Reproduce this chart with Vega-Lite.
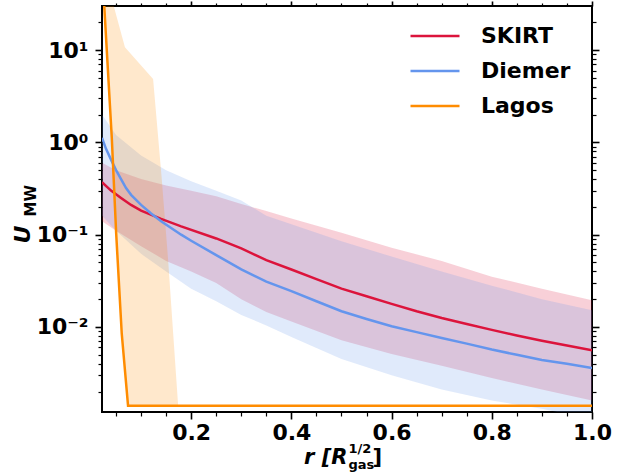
{
  "$schema": "https://vega.github.io/schema/vega-lite/v6.json",
  "width": 490,
  "height": 406,
  "autosize": {"type": "none"},
  "padding": {"left": 102, "top": 6, "right": 43, "bottom": 62},
  "background": "white",
  "config": {
    "view": {"stroke": "black", "strokeWidth": 2},
    "axis": {"domain": false, "grid": false, "ticks": true, "tickColor": "black", "labelColor": "black", "titleColor": "black", "labelFont": "DejaVu Sans", "labelFontWeight": "bold", "titleFont": "DejaVu Sans", "titleFontWeight": "bold", "labelOverlap": false},
    "legend": {"orient": "none", "legendX": 307, "legendY": 19, "symbolType": "stroke", "symbolSize": 2401, "symbolStrokeWidth": 2.5, "labelFont": "DejaVu Sans", "labelFontWeight": "bold", "labelFontSize": 22, "labelColor": "black", "labelOffset": 20, "rowPadding": 13, "clipHeight": 22, "padding": 0}
  },
  "datasets": {
    "skirtLine": [
      {"s": "SKIRT", "r": 0.022, "u": 0.37}, {"s": "SKIRT", "r": 0.04, "u": 0.3}, {"s": "SKIRT", "r": 0.06, "u": 0.25}, {"s": "SKIRT", "r": 0.08, "u": 0.21}, {"s": "SKIRT", "r": 0.1, "u": 0.182}, {"s": "SKIRT", "r": 0.14, "u": 0.148}, {"s": "SKIRT", "r": 0.18, "u": 0.123}, {"s": "SKIRT", "r": 0.25, "u": 0.091}, {"s": "SKIRT", "r": 0.3, "u": 0.071}, {"s": "SKIRT", "r": 0.35, "u": 0.053}, {"s": "SKIRT", "r": 0.4, "u": 0.042}, {"s": "SKIRT", "r": 0.45, "u": 0.033}, {"s": "SKIRT", "r": 0.5, "u": 0.026}, {"s": "SKIRT", "r": 0.55, "u": 0.0215}, {"s": "SKIRT", "r": 0.6, "u": 0.0178}, {"s": "SKIRT", "r": 0.65, "u": 0.0148}, {"s": "SKIRT", "r": 0.7, "u": 0.0125}, {"s": "SKIRT", "r": 0.75, "u": 0.0108}, {"s": "SKIRT", "r": 0.8, "u": 0.0093}, {"s": "SKIRT", "r": 0.85, "u": 0.0081}, {"s": "SKIRT", "r": 0.9, "u": 0.0071}, {"s": "SKIRT", "r": 0.95, "u": 0.0063}, {"s": "SKIRT", "r": 1.0, "u": 0.0056}
    ],
    "diemerLine": [
      {"s": "Diemer", "r": 0.022, "u": 1.12}, {"s": "Diemer", "r": 0.03, "u": 0.85}, {"s": "Diemer", "r": 0.04, "u": 0.65}, {"s": "Diemer", "r": 0.05, "u": 0.5}, {"s": "Diemer", "r": 0.06, "u": 0.4}, {"s": "Diemer", "r": 0.07, "u": 0.32}, {"s": "Diemer", "r": 0.08, "u": 0.27}, {"s": "Diemer", "r": 0.1, "u": 0.21}, {"s": "Diemer", "r": 0.12, "u": 0.17}, {"s": "Diemer", "r": 0.14, "u": 0.14}, {"s": "Diemer", "r": 0.16, "u": 0.118}, {"s": "Diemer", "r": 0.18, "u": 0.1}, {"s": "Diemer", "r": 0.2, "u": 0.086}, {"s": "Diemer", "r": 0.25, "u": 0.06}, {"s": "Diemer", "r": 0.3, "u": 0.042}, {"s": "Diemer", "r": 0.35, "u": 0.031}, {"s": "Diemer", "r": 0.4, "u": 0.0245}, {"s": "Diemer", "r": 0.45, "u": 0.019}, {"s": "Diemer", "r": 0.5, "u": 0.0148}, {"s": "Diemer", "r": 0.55, "u": 0.0122}, {"s": "Diemer", "r": 0.6, "u": 0.0102}, {"s": "Diemer", "r": 0.65, "u": 0.0088}, {"s": "Diemer", "r": 0.7, "u": 0.0076}, {"s": "Diemer", "r": 0.75, "u": 0.0066}, {"s": "Diemer", "r": 0.8, "u": 0.0057}, {"s": "Diemer", "r": 0.85, "u": 0.005}, {"s": "Diemer", "r": 0.9, "u": 0.0044}, {"s": "Diemer", "r": 0.95, "u": 0.004}, {"s": "Diemer", "r": 1.0, "u": 0.0036}
    ],
    "lagosLine": [
      {"s": "Lagos", "r": 0.022, "u": 80}, {"s": "Lagos", "r": 0.0415, "u": 1.13}, {"s": "Lagos", "r": 0.0503, "u": 0.103}, {"s": "Lagos", "r": 0.0614, "u": 0.0085}, {"s": "Lagos", "r": 0.074, "u": 0.0014}, {"s": "Lagos", "r": 1.0, "u": 0.0014}
    ],
    "skirtBand": [
      {"r": 0.022, "lo": 0.14, "hi": 0.6}, {"r": 0.05, "lo": 0.11, "hi": 0.5}, {"r": 0.1, "lo": 0.075, "hi": 0.4}, {"r": 0.15, "lo": 0.052, "hi": 0.34}, {"r": 0.2, "lo": 0.04, "hi": 0.3}, {"r": 0.25, "lo": 0.03, "hi": 0.26}, {"r": 0.3, "lo": 0.02, "hi": 0.215}, {"r": 0.35, "lo": 0.0145, "hi": 0.18}, {"r": 0.4, "lo": 0.0115, "hi": 0.15}, {"r": 0.5, "lo": 0.0072, "hi": 0.105}, {"r": 0.6, "lo": 0.0051, "hi": 0.072}, {"r": 0.7, "lo": 0.0038, "hi": 0.052}, {"r": 0.8, "lo": 0.0028, "hi": 0.035}, {"r": 0.9, "lo": 0.0021, "hi": 0.026}, {"r": 1.0, "lo": 0.0016, "hi": 0.0195}
    ],
    "diemerBand": [
      {"r": 0.022, "lo": 0.16, "hi": 2.0}, {"r": 0.05, "lo": 0.11, "hi": 1.2}, {"r": 0.1, "lo": 0.062, "hi": 0.72}, {"r": 0.15, "lo": 0.04, "hi": 0.5}, {"r": 0.2, "lo": 0.026, "hi": 0.38}, {"r": 0.25, "lo": 0.019, "hi": 0.3}, {"r": 0.3, "lo": 0.0135, "hi": 0.235}, {"r": 0.35, "lo": 0.0104, "hi": 0.16}, {"r": 0.4, "lo": 0.0078, "hi": 0.13}, {"r": 0.5, "lo": 0.0045, "hi": 0.085}, {"r": 0.6, "lo": 0.003, "hi": 0.058}, {"r": 0.7, "lo": 0.0021, "hi": 0.04}, {"r": 0.8, "lo": 0.0016, "hi": 0.028}, {"r": 0.9, "lo": 0.0013, "hi": 0.02}, {"r": 1.0, "lo": 0.001, "hi": 0.0152}
    ],
    "lagosBand": [
      {"r": 0.022, "lo": 80, "hi": 90}, {"r": 0.0415, "lo": 1.13, "hi": 36}, {"r": 0.0503, "lo": 0.103, "hi": 24}, {"r": 0.0614, "lo": 0.0085, "hi": 14.4}, {"r": 0.0678, "lo": 0.0034, "hi": 10.7}, {"r": 0.074, "lo": 0.0014, "hi": 9.8}, {"r": 0.124, "lo": 0.0014, "hi": 4.85}, {"r": 0.141, "lo": 0.0014, "hi": 0.42}, {"r": 0.154, "lo": 0.0014, "hi": 0.053}, {"r": 0.174, "lo": 0.0014, "hi": 0.0014}
    ]
  },
  "resolve": {"axis": {"x": "independent", "y": "independent"}},
  "layer": [
    {
      "data": {"name": "skirtBand"},
      "mark": {"type": "area", "clip": true, "color": "#DC143C", "opacity": 0.2},
      "encoding": {
        "x": {"field": "r", "type": "quantitative", "scale": {"domain": [0.022, 1.0], "nice": false, "zero": false},
          "axis": {"orient": "bottom", "zindex": 1, "values": [0.2, 0.4, 0.6, 0.8, 1.0], "labels": false, "tickSize": 7, "tickWidth": 1.6, "title": "]", "titleFontSize": 21, "titleX": 270, "titleY": 51, "titleAlign": "left", "titleBaseline": "alphabetic", "titleAngle": 0}},
        "y": {"field": "lo", "type": "quantitative", "scale": {"type": "log", "domain": [0.0012, 30], "nice": false},
          "axis": {"orient": "left", "zindex": 1, "values": [0.01, 0.1, 1, 10], "labels": false, "tickSize": 7, "tickWidth": 1.6, "title": "MW", "titleFontSize": 15, "titleAngle": -90, "titleX": -67, "titleY": 210, "titleAlign": "left", "titleBaseline": "alphabetic"}},
        "y2": {"field": "hi"}
      }
    },
    {
      "data": {"name": "diemerBand"},
      "mark": {"type": "area", "clip": true, "color": "#6495ED", "opacity": 0.2},
      "encoding": {
        "x": {"field": "r", "type": "quantitative", "scale": {"domain": [0.022, 1.0], "nice": false, "zero": false},
          "axis": {"orient": "bottom", "zindex": 1, "values": [0.05, 0.1, 0.15, 0.25, 0.3, 0.35, 0.45, 0.5, 0.55, 0.65, 0.7, 0.75, 0.85, 0.9, 0.95], "labels": false, "tickSize": 4, "tickWidth": 1.2, "title": "gas", "titleFontSize": 13, "titleX": 246, "titleY": 56, "titleAlign": "left", "titleBaseline": "alphabetic", "titleAngle": 0}},
        "y": {"field": "lo", "type": "quantitative", "scale": {"type": "log", "domain": [0.0012, 30], "nice": false},
          "axis": {"orient": "left", "zindex": 1, "values": [0.002, 0.003, 0.004, 0.005, 0.006, 0.007, 0.008, 0.009, 0.02, 0.03, 0.04, 0.05, 0.06, 0.07, 0.08, 0.09, 0.2, 0.3, 0.4, 0.5, 0.6, 0.7, 0.8, 0.9, 2, 3, 4, 5, 6, 7, 8, 9, 20], "labels": false, "tickSize": 4, "tickWidth": 1.2, "title": null}},
        "y2": {"field": "hi"}
      }
    },
    {
      "data": {"name": "lagosBand"},
      "mark": {"type": "area", "clip": true, "color": "#FF8C00", "opacity": 0.2},
      "encoding": {
        "x": {"field": "r", "type": "quantitative", "scale": {"domain": [0.022, 1.0], "nice": false, "zero": false},
          "axis": {"orient": "bottom", "values": [0.2, 0.4, 0.6, 0.8, 1.0], "tickSize": 0, "tickOpacity": 0, "labelPadding": 10, "labelFontSize": 22, "labelFlush": false, "format": ".1f", "title": "r [R", "titleFontStyle": "italic", "titleFontSize": 21, "titleX": 245, "titleY": 51, "titleAlign": "right", "titleBaseline": "alphabetic", "titleAngle": 0}},
        "y": {"field": "lo", "type": "quantitative", "scale": {"type": "log", "domain": [0.0012, 30], "nice": false},
          "axis": {"orient": "left", "values": [0.01, 0.1, 1, 10], "tickSize": 0, "tickOpacity": 0, "labelPadding": 14, "labelFontSize": 22, "labelBaseline": "middle", "labelExpr": "datum.value >= 5 ? '10¹' : datum.value >= 0.5 ? '10⁰' : datum.value >= 0.05 ? '10⁻¹' : '10⁻²'", "title": "U", "titleFontStyle": "italic", "titleFontSize": 22, "titleAngle": -90, "titleX": -73, "titleY": 237, "titleAlign": "left", "titleBaseline": "alphabetic"}},
        "y2": {"field": "hi"}
      }
    },
    {
      "data": {"name": "skirtLine"},
      "mark": {"type": "line", "clip": true, "strokeWidth": 2.5},
      "encoding": {
        "x": {"field": "r", "type": "quantitative", "scale": {"domain": [0.022, 1.0], "nice": false, "zero": false},
          "axis": {"orient": "top", "zindex": 1, "values": [0.2, 0.4, 0.6, 0.8, 1.0], "labels": false, "tickSize": 5, "tickWidth": 1.6, "title": "1/2", "titleFontSize": 13, "titleX": 246, "titleY": 446, "titleAlign": "left", "titleBaseline": "alphabetic", "titleAngle": 0}},
        "y": {"field": "u", "type": "quantitative", "scale": {"type": "log", "domain": [0.0012, 30], "nice": false},
          "axis": {"orient": "right", "zindex": 1, "values": [0.01, 0.1, 1, 10], "labels": false, "tickSize": 7, "tickWidth": 1.6, "title": null}},
        "color": {"field": "s", "type": "nominal", "scale": {"domain": ["SKIRT", "Diemer", "Lagos"], "range": ["#DC143C", "#6495ED", "#FF8C00"]}, "legend": {"title": null}}
      }
    },
    {
      "data": {"name": "diemerLine"},
      "mark": {"type": "line", "clip": true, "strokeWidth": 2.5},
      "encoding": {
        "x": {"field": "r", "type": "quantitative", "scale": {"domain": [0.022, 1.0], "nice": false, "zero": false},
          "axis": {"orient": "top", "zindex": 1, "values": [0.05, 0.1, 0.15, 0.25, 0.3, 0.35, 0.45, 0.5, 0.55, 0.65, 0.7, 0.75, 0.85, 0.9, 0.95], "labels": false, "tickSize": 3, "tickWidth": 1.2, "title": null}},
        "y": {"field": "u", "type": "quantitative", "scale": {"type": "log", "domain": [0.0012, 30], "nice": false},
          "axis": {"orient": "right", "zindex": 1, "values": [0.002, 0.003, 0.004, 0.005, 0.006, 0.007, 0.008, 0.009, 0.02, 0.03, 0.04, 0.05, 0.06, 0.07, 0.08, 0.09, 0.2, 0.3, 0.4, 0.5, 0.6, 0.7, 0.8, 0.9, 2, 3, 4, 5, 6, 7, 8, 9, 20], "labels": false, "tickSize": 4, "tickWidth": 1.2, "title": null}},
        "color": {"field": "s", "type": "nominal", "scale": {"domain": ["SKIRT", "Diemer", "Lagos"], "range": ["#DC143C", "#6495ED", "#FF8C00"]}, "legend": {"title": null}}
      }
    },
    {
      "data": {"name": "lagosLine"},
      "mark": {"type": "line", "clip": true, "strokeWidth": 2.5},
      "encoding": {
        "x": {"field": "r", "type": "quantitative", "scale": {"domain": [0.022, 1.0], "nice": false, "zero": false}, "axis": null},
        "y": {"field": "u", "type": "quantitative", "scale": {"type": "log", "domain": [0.0012, 30], "nice": false}, "axis": null},
        "color": {"field": "s", "type": "nominal", "scale": {"domain": ["SKIRT", "Diemer", "Lagos"], "range": ["#DC143C", "#6495ED", "#FF8C00"]}, "legend": {"title": null}}
      }
    }
  ]
}
